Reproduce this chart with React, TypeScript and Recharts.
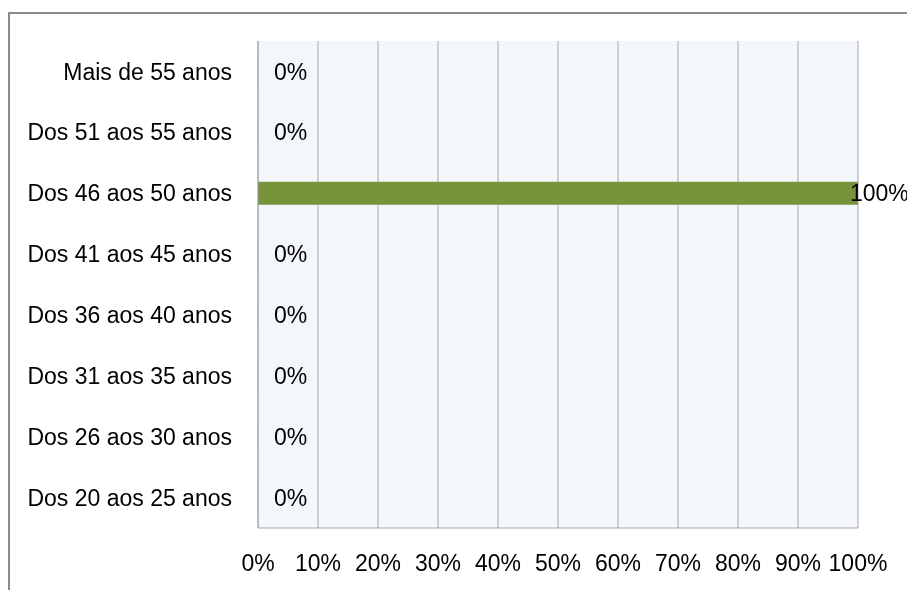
import React from 'react';
import { BarChart, Bar, XAxis, YAxis, CartesianGrid, LabelList } from 'recharts';

const categories = [
  'Mais de 55 anos',
  'Dos 51 aos 55 anos',
  'Dos 46 aos 50 anos',
  'Dos 41 aos 45 anos',
  'Dos 36 aos 40 anos',
  'Dos 31 aos 35 anos',
  'Dos 26 aos 30 anos',
  'Dos 20 aos 25 anos',
];
const values = [0, 0, 100, 0, 0, 0, 0, 0];
const xTicks = [0, 10, 20, 30, 40, 50, 60, 70, 80, 90, 100];

const data = categories.map((c, i) => ({ name: c, value: values[i] }));

const FONT = '"Liberation Sans", Arial, sans-serif';
const FS = 23;

const renderLabel = (props: any) => {
  const { x, y, width, height, value } = props;
  const end = Number(x) + (value > 0 ? Number(width) : 0);
  const tx = value >= 100 ? end - 8 : end + 16;
  return (
    <text
      x={tx}
      y={Number(y) + Number(height) / 2}
      dominantBaseline="central"
      fontFamily={FONT}
      fontSize={FS}
      fill="#000"
    >
      {`${value}%`}
    </text>
  );
};

export default function App() {
  return (
    <div>
      <div
        style={{
          position: 'fixed',
          left: 8,
          top: 12,
          width: 920,
          height: 600,
          borderLeft: '2px solid #8c8c8c',
          borderTop: '2px solid #8c8c8c',
          boxSizing: 'border-box',
        }}
      />
      <div style={{ position: 'fixed', left: 10, top: 14 }}>
        <BarChart
          width={897}
          height={576}
          data={data}
          layout="vertical"
          margin={{ top: 27, right: 49, bottom: 0, left: 0 }}
          barCategoryGap={0}
          style={{ overflow: 'visible' }}
        >
          <CartesianGrid
            horizontal={false}
            vertical={true}
            stroke="#a6a6a6"
            fill="#f3f6fb"
            verticalValues={xTicks}
          />
          <XAxis
            type="number"
            domain={[0, 100]}
            ticks={xTicks}
            tickFormatter={(v: number) => `${v}%`}
            axisLine={{ stroke: '#a6a6a6' }}
            tickLine={false}
            tickSize={0}
            tickMargin={27}
            height={62}
            interval={0}
            tick={{ fontFamily: FONT, fontSize: FS, fill: '#000' }}
          />
          <YAxis
            type="category"
            dataKey="name"
            width={248}
            axisLine={{ stroke: '#a6a6a6' }}
            tickLine={false}
            tickSize={0}
            tickMargin={26}
            interval={0}
            tick={{ fontFamily: FONT, fontSize: FS, fill: '#000' }}
          />
          <Bar
            dataKey="value"
            fill="#77933c"
            barSize={23}
            minPointSize={0.05}
            isAnimationActive={false}
          >
            <LabelList dataKey="value" content={renderLabel} />
          </Bar>
        </BarChart>
      </div>
    </div>
  );
}
